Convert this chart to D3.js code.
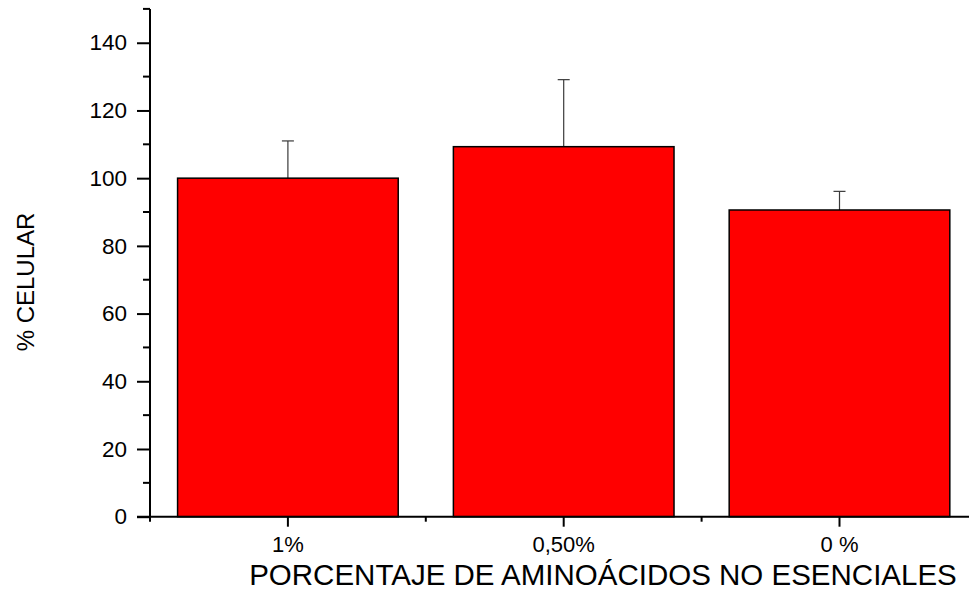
<!DOCTYPE html>
<html>
<head>
<meta charset="utf-8">
<script src="https://cdnjs.cloudflare.com/ajax/libs/d3/7.8.5/d3.min.js"></script>
<style>
  body { margin: 0; background: #fff; }
  text { font-family: "Liberation Sans", Arial, sans-serif; fill: #000; }
</style>
</head>
<body>
<script>
  // data
  const categories = ["1%", "0,50%", "0 %"];
  const means = [100, 109.3, 90.6];
  const errors = [11, 19.8, 5.5];
  const yMajor = [0, 20, 40, 60, 80, 100, 120, 140];
  const yMinor = [10, 30, 50, 70, 90, 110, 130, 150];

  const w = 969, h = 612;
  const x0 = 150, y0 = 516.7;

  const svg = d3.select("body").append("svg")
    .attr("width", w)
    .attr("height", h);

  const xScale = d3.scaleBand()
    .domain(categories)
    .range([x0, 977.4])
    .paddingInner(0.2)
    .paddingOuter(0.1);

  const yScale = d3.scaleLinear()
    .domain([0, 150])
    .range([y0, 8.9]);

  const data = categories.map((c, i) => ({ cat: c, v: means[i], e: errors[i] }));

  // error bars (only the upper half shows above the bar)
  const eb = svg.append("g").attr("stroke", "#3a3a3a").attr("stroke-width", 1.2);
  data.forEach(d => {
    const cx = xScale(d.cat) + xScale.bandwidth() / 2;
    eb.append("line")
      .attr("x1", cx).attr("x2", cx)
      .attr("y1", yScale(d.v)).attr("y2", yScale(d.v + d.e));
    eb.append("line")
      .attr("x1", cx - 6).attr("x2", cx + 6)
      .attr("y1", yScale(d.v + d.e)).attr("y2", yScale(d.v + d.e));
  });

  svg.selectAll("rect.bar")
    .data(data)
    .enter()
    .append("rect")
    .attr("class", "bar")
    .attr("x", d => xScale(d.cat))
    .attr("y", d => yScale(d.v))
    .attr("width", xScale.bandwidth())
    .attr("height", d => yScale(0) - yScale(d.v))
    .attr("fill", "#ff0000")
    .attr("stroke", "#000")
    .attr("stroke-width", 1.5);

  // y axis
  const yAxis = d3.axisLeft(yScale)
    .tickValues(yMajor)
    .tickSize(13)
    .tickPadding(10)
    .tickFormat(d3.format("d"));

  const gy = svg.append("g")
    .attr("transform", "translate(" + x0 + ",0)")
    .call(yAxis);
  gy.select(".domain").remove();
  gy.selectAll(".tick line").attr("stroke", "#000").attr("stroke-width", 2);
  gy.selectAll(".tick text").attr("font-size", 22.5).attr("font-family", "Liberation Sans, Arial, sans-serif");
  gy.selectAll("line.minor")
    .data(yMinor)
    .enter()
    .append("line")
    .attr("class", "minor")
    .attr("x1", -7).attr("x2", 0)
    .attr("y1", d => yScale(d)).attr("y2", d => yScale(d))
    .attr("stroke", "#000").attr("stroke-width", 2);
  gy.append("line")
    .attr("x1", 0).attr("x2", 0)
    .attr("y1", yScale(0) + 1).attr("y2", yScale(150))
    .attr("stroke", "#000").attr("stroke-width", 2);

  // x axis
  const xAxis = d3.axisBottom(xScale)
    .tickSize(10)
    .tickPadding(10);

  const gx = svg.append("g")
    .attr("transform", "translate(0," + y0 + ")")
    .call(xAxis);
  gx.select(".domain").remove();
  gx.selectAll(".tick line").attr("stroke", "#000").attr("stroke-width", 2);
  gx.selectAll(".tick text").attr("font-size", 22).attr("font-family", "Liberation Sans, Arial, sans-serif");

  const bounds = categories.map(c => xScale(c) - xScale.step() * xScale.paddingInner() / 2);
  bounds.push(xScale.range()[1]);
  bounds[0] = xScale.range()[0];
  gx.selectAll("line.minor")
    .data(bounds)
    .enter()
    .append("line")
    .attr("class", "minor")
    .attr("x1", d => d).attr("x2", d => d)
    .attr("y1", 0).attr("y2", 5)
    .attr("stroke", "#000").attr("stroke-width", 2);
  gx.append("line")
    .attr("x1", x0 - 13).attr("x2", w)
    .attr("y1", 0).attr("y2", 0)
    .attr("stroke", "#000").attr("stroke-width", 2);

  // titles
  svg.append("text")
    .attr("x", 603)
    .attr("y", 585)
    .attr("text-anchor", "middle")
    .attr("font-size", 29.5)
    .text("PORCENTAJE DE AMINOÁCIDOS NO ESENCIALES");

  svg.append("text")
    .attr("transform", "translate(34,282) rotate(-90)")
    .attr("text-anchor", "middle")
    .attr("font-size", 24)
    .text("% CELULAR");
</script>
</body>
</html>
